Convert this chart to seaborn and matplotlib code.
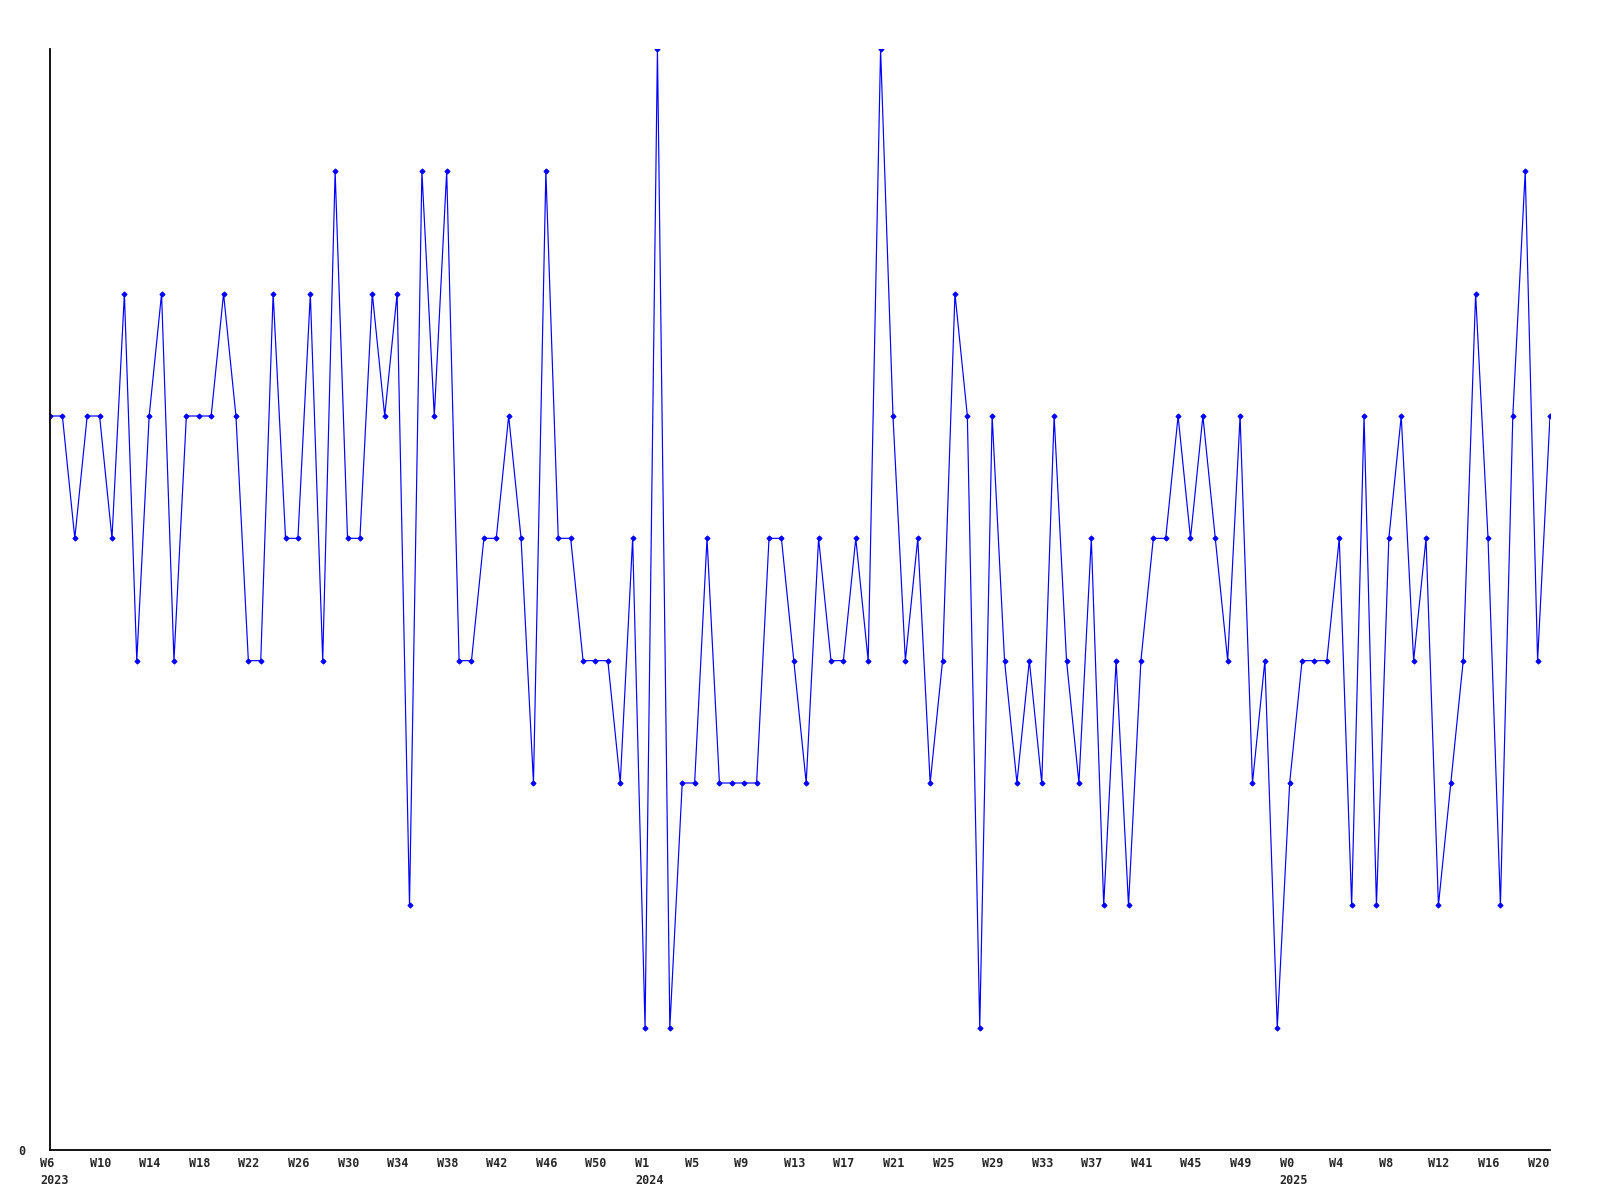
import numpy as np
import pandas as pd
import seaborn as sns
import matplotlib.pyplot as plt
from matplotlib.transforms import ScaledTranslation


# DATA

counts = [
    6, 6, 5, 6, 6, 5, 7, 4, 6, 7, 4, 6, 6, 6, 7, 6, 4, 4, 7, 5,
    5, 7, 4, 8, 5, 5, 7, 6, 7, 2, 8, 6, 8, 4, 4, 5, 5, 6, 5, 3,
    8, 5, 5, 4, 4, 4, 3, 5, 1, 9, 1, 3, 3, 5, 3, 3, 3, 3, 5, 5,
    4, 3, 5, 4, 4, 5, 4, 9, 6, 4, 5, 3, 4, 7, 6, 1, 6, 4, 3, 4,
    3, 6, 4, 3, 5, 2, 4, 2, 4, 5, 5, 6, 5, 6, 5, 4, 6, 3, 4, 1,
    3, 4, 4, 4, 5, 2, 6, 2, 5, 6, 4, 5, 2, 3, 4, 7, 5, 2, 6, 8,
    4, 6,
]

week_labels = [
    "W6", "W10", "W14", "W18", "W22", "W26", "W30", "W34", "W38", "W42", "W46", "W50",
    "W1", "W5", "W9", "W13", "W17", "W21", "W25", "W29", "W33", "W37", "W41", "W45", "W49",
    "W0", "W4", "W8", "W12", "W16", "W20",
]
year_labels = {"W6": "2023", "W1": "2024", "W0": "2025"}


# PLOT

df = pd.DataFrame({"week": np.arange(len(counts)), "count": counts})

sns.set_style("white")
plt.rcParams["font.family"] = ["DejaVu Sans Mono"]

fig = plt.figure(figsize=(16, 12), dpi=100)
ax = fig.add_axes([50 / 1600, 50 / 1200, 1500 / 1600, 1101 / 1200])

sns.lineplot(data=df, x="week", y="count", ax=ax, color="#0000ff",
             linewidth=0.85, marker="D", markersize=2.6,
             markeredgecolor="#0000ff", markerfacecolor="#0000ff")

ax.set_xlim(0, len(counts) - 1)
ax.set_ylim(0, 9)

tick_pos = df["week"][::4].values
tick_text = [w + ("\n" + year_labels[w] if w in year_labels else "") for w in week_labels]
ax.set_xticks(tick_pos)
ax.set_xticklabels(tick_text, ha="left", va="top", fontsize=8.5,
                   fontweight="bold", linespacing=1.45)

ax.set_yticks([0])
ax.set_yticklabels(["0"], fontsize=8.5, fontweight="bold")
ax.tick_params(axis="both", length=0)
ax.tick_params(axis="x", pad=5)
ax.tick_params(axis="y", pad=18)

# labels start a little left of their week
shift = ScaledTranslation(-10 / 100, 0, fig.dpi_scale_trans)
for lab in ax.get_xticklabels():
    lab.set_transform(lab.get_transform() + shift)

ax.set_xlabel("")
ax.set_ylabel("")
for side in ["top", "right"]:
    ax.spines[side].set_visible(False)
for side in ["left", "bottom"]:
    ax.spines[side].set_color("black")
    ax.spines[side].set_linewidth(1.3)

fig.savefig("out.png", dpi=100)
